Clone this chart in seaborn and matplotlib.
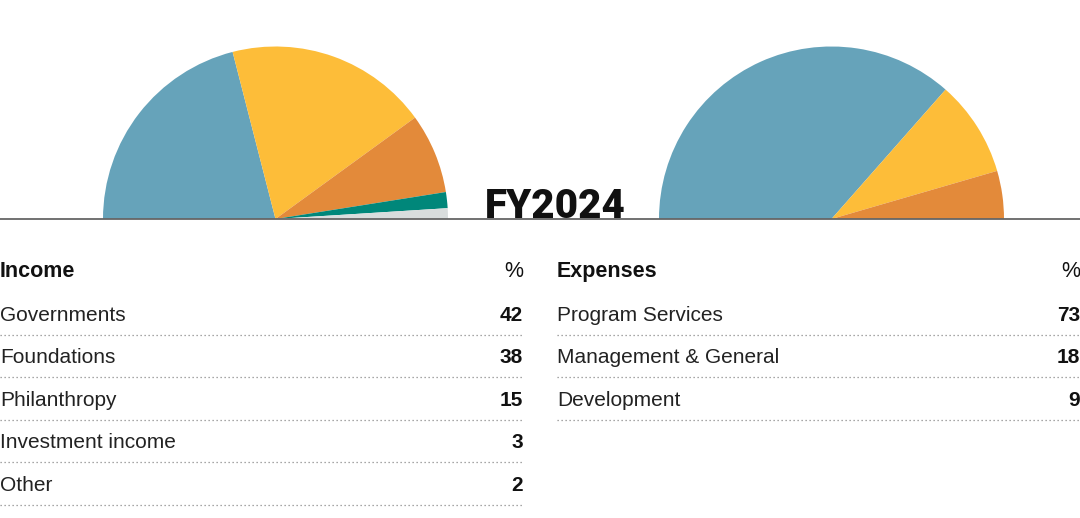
import matplotlib
matplotlib.use("Agg")
import matplotlib.pyplot as plt
import seaborn as sns

# ---- data ----
income_labels = ["Governments", "Foundations", "Philanthropy", "Investment income", "Other"]
income_values = [42, 38, 15, 3, 2]
expense_labels = ["Program Services", "Management & General", "Development"]
expense_values = [73, 18, 9]
year_label = "FY2024"

income_colors = ["#66A3BA", "#FDBD39", "#E38A3A", "#00877A", "#D9DDDD"]
expense_colors = ["#66A3BA", "#FDBD39", "#E38A3A"]

sns.set_theme(style="white")
plt.rcParams['font.family'] = ['Liberation Sans', 'DejaVu Sans']

W, H = 1080, 518
fig = plt.figure(figsize=(W / 100, H / 100), dpi=100)
ax = fig.add_axes([0, 0, 1, 1])

def Y(py):
    return H - py

base_py = 219
radius = 172.5

def half_pie(values, colors, cx):
    vals = list(values) + [sum(values)]
    cols = list(colors) + ["none"]
    ax.pie(vals, colors=cols, startangle=180, counterclock=False,
           center=(cx, Y(base_py)), radius=radius, frame=True,
           wedgeprops=dict(linewidth=0, edgecolor="none"))

half_pie(income_values, income_colors, 275.5)
half_pie(expense_values, expense_colors, 831.5)

ax.axhline(Y(base_py), color="#666666", lw=1.3, zorder=5)
ax.text(555.5, Y(base_py) + 0.5, year_label, ha="center", va="baseline",
        fontsize=29, fontweight=900, family=["Roboto", "Liberation Sans"],
        color="#111111", zorder=4)

row0 = 321
step = 42.4
header_base = 277

def table(labels, values, x0, x1, head):
    ax.text(x0, Y(header_base), head, ha="left", va="baseline",
            fontsize=15.5, fontweight="bold", color="#111111")
    ax.text(x1, Y(header_base), "%", ha="right", va="baseline",
            fontsize=15.5, color="#111111")
    for i, (lab, v) in enumerate(zip(labels, values)):
        yb = row0 + step * i
        ax.text(x0, Y(yb), lab, ha="left", va="baseline",
                fontsize=15, color="#222222")
        ax.text(x1, Y(yb), str(v), ha="right", va="baseline",
                fontsize=15, fontweight="bold", color="#111111")
        ly = yb + 14
        ax.plot([x0, x1], [Y(ly), Y(ly)], color="#8a8a8a", lw=0.9,
                linestyle=(0, (1, 2.2)))

table(income_labels, income_values, 0, 523, "Income")
table(expense_labels, expense_values, 557, 1080, "Expenses")

ax.set_xlim(0, W)
ax.set_ylim(0, H)
ax.set_aspect("auto")
ax.axis("off")

fig.savefig("out.png", dpi=100, facecolor="white")
